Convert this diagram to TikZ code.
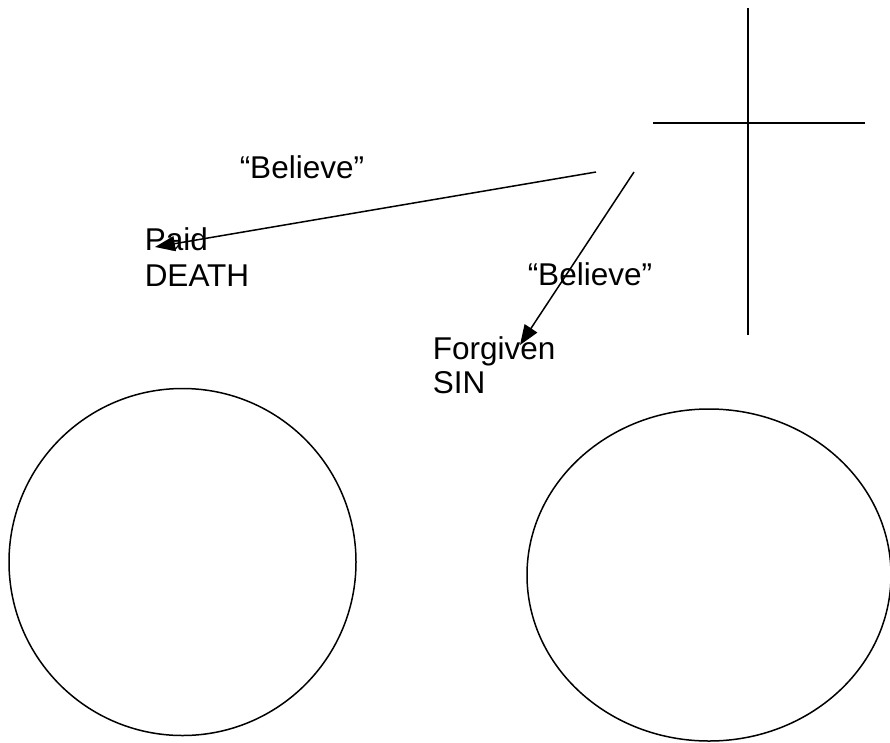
\documentclass[tikz,border=0pt]{standalone}
\usepackage{fontspec}
\setmainfont{Liberation Sans}
\usetikzlibrary{arrows.meta}
\begin{document}
\begin{tikzpicture}[
    x=1pt, y=-1pt,
    line width=1.5pt,
    every node/.style={font=\fontsize{31.5}{36}\selectfont, inner sep=0pt, align=left},
    word/.style={anchor=base west},
    arrow/.style={-{Triangle[length=20pt,width=15pt]}},
    ring/.style={draw, line width=1.5pt}
]
\useasboundingbox (0,0) rectangle (890,742);

% cross
\coordinate (vtop) at (748,8);
\coordinate (vbot) at (748,335);
\coordinate (hleft) at (653,123);
\coordinate (hright) at (865,123);
\draw (vtop) -- (vbot);
\draw (hleft) -- (hright);

% labels
\node[word] (believeA) at (239,178) {“Believe”};
\node[word] (paid)     at (144,250) {Paid};
\node[word] (death)    at (144,286) {DEATH};
\node[word] (believeB) at (527,285) {“Believe”};
\node[word] (forgiven) at (432,359) {Forgiven};
\node[word] (sin)      at (432,393) {SIN};

% arrows
\coordinate (startA) at (596,172);
\coordinate (tipA)   at (155,247);
\coordinate (startB) at (634,172);
\coordinate (tipB)   at (520,345);
\draw[arrow] (startA) -- (tipA);
\draw[arrow] (startB) -- (tipB);

% circles
\draw[ring] (182.5,562) circle[radius=173.5];
\draw[ring] (709,575) ellipse[x radius=182, y radius=166];
\end{tikzpicture}
\end{document}
